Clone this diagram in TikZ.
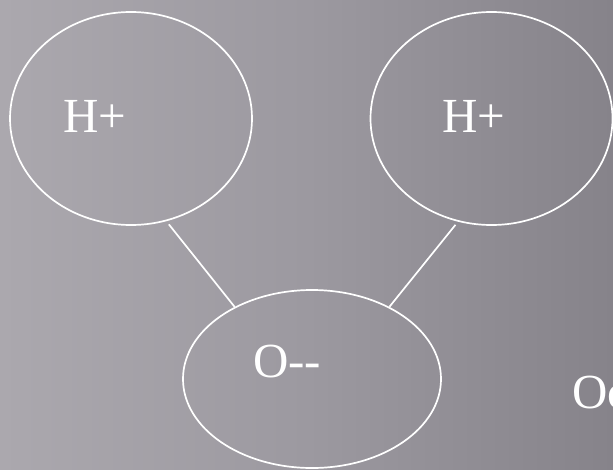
\documentclass[tikz,border=0pt]{standalone}
\usepackage{fontspec}
\setmainfont{Liberation Serif}
\usetikzlibrary{shapes.geometric}
\definecolor{bgleft}{HTML}{ABA8AE}
\definecolor{bgmid}{HTML}{9C99A0}
\definecolor{bgright}{HTML}{86838A}
\begin{document}
\begin{tikzpicture}[x=1pt,y=-1pt,
  atom/.style={ellipse, draw=white, line width=1.7pt, inner sep=0pt},
  lbl/.style={text=white, font=\fontsize{49}{55}\selectfont, inner sep=0pt, anchor=base west},
  bond/.style={draw=white, line width=1.7pt}]
\useasboundingbox (0,0) rectangle (613,469);
\shade[left color=bgleft, right color=bgright, middle color=bgmid] (0,0) rectangle (613,469);
\node[atom, minimum width=242pt, minimum height=213pt] (h1) at (131,118.5) {};
\node[atom, minimum width=242pt, minimum height=213pt] (h2) at (491.5,118.5) {};
\node[atom, minimum width=258pt, minimum height=178pt] (o) at (312,379) {};
\node[lbl] (t1) at (63,132) {H+};
\node[lbl] (t2) at (442,132) {H+};
\node[lbl] (t3) at (253,377) {O-{}-};
\node[lbl] (t4) at (572,408) {Oc};
\draw[bond, shorten <=4pt] (h1.-71) -- (o.137);
\draw[bond, shorten <=4pt] (h2.-108) -- (o.43);
\end{tikzpicture}
\end{document}
